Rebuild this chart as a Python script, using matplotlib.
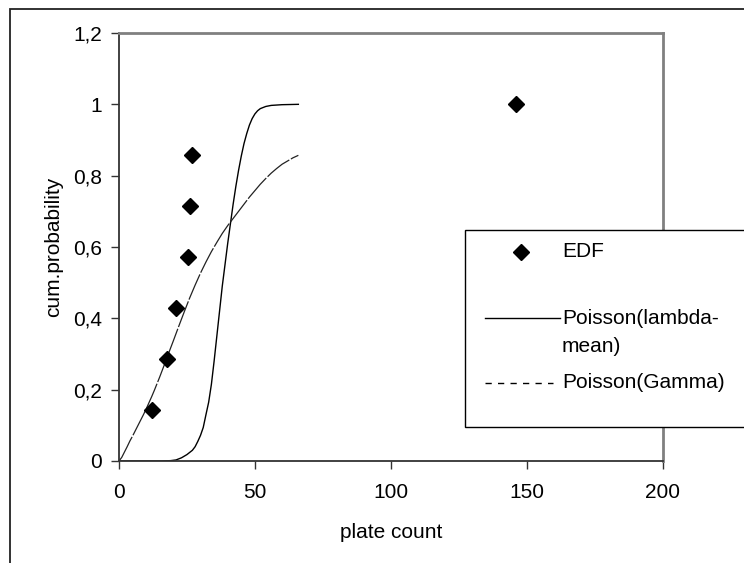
import numpy as np
import matplotlib
matplotlib.use("Agg")
from matplotlib import pyplot as plt
from matplotlib.patches import Rectangle
from matplotlib.lines import Line2D

plt.rcParams['font.family'] = ['Liberation Sans', 'DejaVu Sans']

# empirical distribution (plate counts and cumulative probability)
edf_x = [12, 17.5, 21, 25.5, 26, 27, 146]
edf_y = [0.143, 0.286, 0.429, 0.571, 0.714, 0.857, 1.0]

# Poisson with lambda = mean
lam_x = [0, 15, 19, 21, 23, 25, 27, 28, 29, 30, 31, 32, 33, 34, 35, 36, 37, 38, 39, 40,
         41, 42, 43, 44, 45, 46, 47, 48, 49, 50, 51, 52, 54, 56, 60, 66]
lam_y = [0, 0, 0.001, 0.003, 0.009, 0.018, 0.03, 0.04, 0.055, 0.072, 0.094, 0.13, 0.165,
         0.215, 0.28, 0.35, 0.42, 0.49, 0.55, 0.61, 0.665, 0.72, 0.77, 0.815, 0.855, 0.89,
         0.918, 0.942, 0.96, 0.973, 0.982, 0.988, 0.994, 0.997, 0.999, 1.0]

# Poisson with gamma distributed lambda
gam_x = [0, 1, 2, 3, 4, 5, 6, 7, 8, 9, 10, 11, 12, 13, 14, 15, 16, 17, 18, 19, 20, 22, 24,
         26, 28, 30, 32, 34, 36, 38, 40, 42, 44, 46, 48, 50, 52, 54, 56, 58, 60, 62, 64, 66]
gam_y = [0, 0.01, 0.025, 0.04, 0.056, 0.07, 0.085, 0.10, 0.115, 0.13, 0.146, 0.163, 0.18,
         0.198, 0.217, 0.236, 0.256, 0.276, 0.297, 0.317, 0.337, 0.378, 0.418, 0.457, 0.493,
         0.527, 0.558, 0.587, 0.613, 0.638, 0.66, 0.68, 0.70, 0.72, 0.74, 0.758, 0.776, 0.792,
         0.807, 0.82, 0.832, 0.841, 0.85, 0.857]

x_ticks = [0, 50, 100, 150, 200]
y_ticks = [0, 0.2, 0.4, 0.6, 0.8, 1.0, 1.2]
y_labels = ['0', '0,2', '0,4', '0,6', '0,8', '1', '1,2']

W, H = 744, 563
fig = plt.figure(figsize=(W / 100, H / 100), dpi=100)

def fx(px):
    return px / W

def fy(py):
    return 1 - py / H

# outer chart border (runs off the right and bottom edge)
fig.patches.append(Rectangle((fx(10), -0.1), 1.2, fy(9) + 0.1, transform=fig.transFigure,
                             fill=False, edgecolor='#222222', linewidth=1.3))

ax = fig.add_axes([fx(119), fy(461), fx(662.5) - fx(119), fy(33) - fy(461)])

ax.plot(lam_x, lam_y, color='black', linewidth=1.0)
ax.plot(gam_x, gam_y, color='#222222', linewidth=0.9, linestyle=(0, (22, 1.5)))
ax.plot(edf_x, edf_y, linestyle='none', marker='D', markersize=8, color='black')

ax.set_xlim(0, 200)
ax.set_ylim(0, 1.2)
ax.set_xticks(x_ticks)
ax.set_yticks(y_ticks)
ax.set_yticklabels(y_labels)
ax.tick_params(axis='both', direction='out', length=6, width=1, labelsize=15, color='#333333')
ax.tick_params(axis='x', pad=10)
ax.tick_params(axis='y', pad=6)
ax.set_xlabel('plate count', fontsize=15, labelpad=15)
ax.set_ylabel('cum.probability', fontsize=15, labelpad=7)

for s in ['top', 'right']:
    ax.spines[s].set_color('#808080')
    ax.spines[s].set_linewidth(2)
for s in ['left', 'bottom']:
    ax.spines[s].set_color('#333333')
    ax.spines[s].set_linewidth(1.3)

# legend box drawn by hand so it can run off the right edge like the original
fig.patches.append(Rectangle((fx(465), fy(427)), 0.5, fy(230) - fy(427), transform=fig.transFigure,
                             facecolor='white', edgecolor='black', linewidth=1.0, zorder=5))
fig.lines.append(Line2D([fx(521)], [fy(252)], transform=fig.transFigure, marker='D',
                        markersize=8, color='black', linestyle='none', zorder=6))
fig.text(fx(562), fy(252), 'EDF', fontsize=15, va='center', ha='left', zorder=6)
fig.lines.append(Line2D([fx(485), fx(560)], [fy(318), fy(318)], transform=fig.transFigure,
                        color='black', linewidth=1.0, zorder=6))
fig.text(fx(562), fy(318), 'Poisson(lambda-', fontsize=15, va='center', ha='left', zorder=6)
fig.text(fx(562), fy(346), 'mean)', fontsize=15, va='center', ha='left', zorder=6)
fig.lines.append(Line2D([fx(485), fx(553)], [fy(383), fy(383)], transform=fig.transFigure,
                        color='black', linewidth=1.0, linestyle=(0, (4.5, 4.5)), zorder=6))
fig.text(fx(562), fy(383), 'Poisson(Gamma)', fontsize=15, va='center', ha='left', zorder=6)

fig.savefig('out.png', dpi=100)
